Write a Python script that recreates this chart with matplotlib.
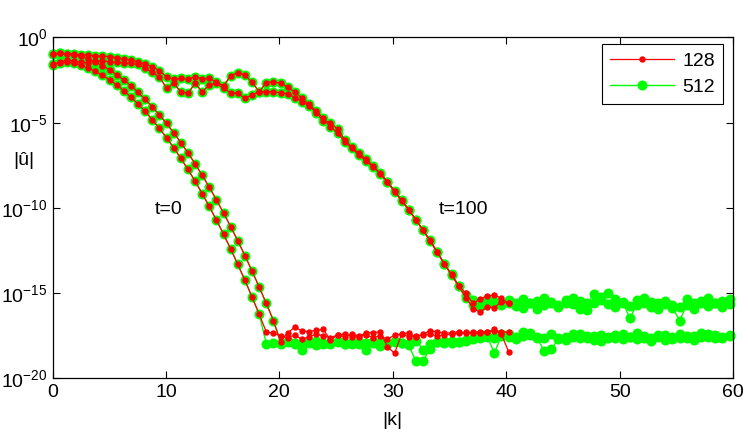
import numpy as np
import matplotlib
matplotlib.use("Agg")
import matplotlib.pyplot as plt
from matplotlib.ticker import NullLocator
from matplotlib.lines import Line2D

plt.rcParams['font.family'] = ['Liberation Sans', 'DejaVu Sans']

# wavenumber spacing (2*pi/L with L = 10)
K_STEP = 0.6283

# ---- data: log10 |u_hat| ----
# t = 0, first component (shared descent n = 0..31)
T0A_DESC = [-0.95, -0.93, -0.95, -1.00, -1.11, -1.26, -1.44, -1.65, -1.90, -2.18,
            -2.49, -2.83, -3.21, -3.62, -4.06, -4.54, -5.04, -5.58, -6.16, -6.76,
            -7.40, -8.08, -8.78, -9.52, -10.29, -11.09, -11.93, -12.79, -13.70, -14.63,
            -15.60, -16.60]
T0A_RED_FLOOR = [-17.84, -17.31, -17.00, -17.20, -17.26, -17.16, -17.12, -17.74, -17.45, -17.39,
                 -17.55, -17.55, -17.31, -17.31, -17.26, -18.14, -18.52, -17.39, -17.31, -17.58,
                 -17.39, -17.20, -17.26, -17.35, -17.31, -17.26, -17.35, -17.35, -17.35, -17.30,
                 -17.12, -17.40, -18.43]
T0A_GREEN_FLOOR = [-17.90, -17.85, -17.95, -18.30, -17.90, -17.80, -17.95, -17.90, -17.85, -18.00,
                   -17.95, -17.85, -18.30, -17.90, -17.85, -17.95, -17.80, -17.90, -18.05, -19.00,
                   -18.95, -18.25, -17.85, -17.90, -17.80, -17.85, -17.75, -17.70, -17.60, -17.55,
                   -18.50, -17.50, -17.40, -17.55, -17.30, -17.45, -17.60, -18.40, -18.25, -17.70,
                   -17.55, -17.40, -17.60, -17.50, -17.75, -17.45, -17.55, -17.65, -17.40, -17.55,
                   -17.70, -17.50, -17.60, -17.45, -17.75, -17.55, -17.40, -17.60, -17.50, -17.35,
                   -17.55, -17.45, -17.60, -17.50]

# t = 0, second component (shared descent n = 0..29)
T0B_DESC = [-1.55, -1.50, -1.45, -1.50, -1.63, -1.79, -1.99, -2.22, -2.48, -2.78,
            -3.12, -3.49, -3.90, -4.34, -4.82, -5.33, -5.88, -6.46, -7.08, -7.73,
            -8.42, -9.15, -9.91, -10.71, -11.54, -12.40, -13.31, -14.24, -15.22, -16.23]
T0B_RED_FLOOR = [-17.27, -17.35, -17.50, -17.60, -17.45, -17.70, -17.55, -17.40, -17.50, -17.60,
                 -17.45, -17.55, -17.40, -17.50, -17.45, -17.60, -17.50, -17.70, -17.45, -17.40,
                 -17.55, -17.50, -17.45, -17.40, -17.50, -17.45, -17.40, -17.35, -17.30, -17.30,
                 -17.25, -17.25, -17.20, -17.25, -17.30]
T0B_GREEN_FLOOR = [-17.95, -17.90, -18.00, -17.80, -17.90, -17.95, -17.85, -18.05, -17.90, -17.95,
                   -17.80, -17.95, -17.85, -18.00, -17.90, -17.85, -18.10, -17.95, -17.85, -17.90,
                   -17.95, -17.80, -18.30, -17.95, -17.85, -17.80, -17.90, -17.85, -17.80, -17.65,
                   -17.55, -17.50, -17.60, -17.40, -17.55, -17.70, -17.50, -17.35, -17.55, -17.65,
                   -17.40, -17.60, -17.75, -17.55, -17.40, -17.65, -17.50, -17.80, -17.60, -17.45,
                   -17.70, -17.55, -17.35, -17.60, -17.80, -17.55, -17.45, -17.70, -17.60, -17.50,
                   -17.75, -17.55, -17.40, -17.65, -17.55, -17.45]

# t = 100, first component (shared descent n = 0..57)
T100C_DESC = [-0.95, -0.93, -0.95, -0.98, -1.02, -1.05, -1.08, -1.10, -1.12, -1.18,
              -1.26, -1.33, -1.42, -1.55, -1.71, -1.95, -2.30, -2.45, -2.40, -2.45,
              -2.30, -2.42, -2.40, -2.60, -2.84, -2.25, -2.06, -2.20, -2.62, -3.18,
              -2.65, -2.59, -2.69, -2.92, -3.20, -3.57, -3.92, -4.32, -4.74, -5.23,
              -5.62, -6.10, -6.50, -6.90, -7.25, -7.60, -7.95, -8.45, -9.00, -9.55,
              -10.10, -10.70, -11.30, -11.90, -12.60, -13.30, -13.90, -14.55]
T100C_RED_TAIL = [-15.00, -15.60, -15.35, -15.16, -15.10, -15.30, -15.60]
T100C_GREEN_TAIL = [-15.10, -15.40, -15.50, -15.35, -15.45, -15.60, -15.40, -15.55, -15.35, -15.60,
                    -15.45, -15.30, -15.50, -15.70, -15.40, -15.25, -15.45, -15.60, -15.05, -15.20,
                    -15.00, -15.35, -15.55, -15.75, -15.40, -15.30, -15.50, -15.60, -15.45, -15.70,
                    -15.80, -15.35, -15.60, -15.45, -15.30, -15.55, -15.45, -15.35]

# t = 100, second component (shared descent n = 0..57)
T100D_DESC = [-1.60, -1.45, -1.32, -1.38, -1.45, -1.47, -1.40, -1.36, -1.42, -1.46,
              -1.48, -1.52, -1.58, -1.80, -2.05, -2.30, -2.98, -2.69, -3.18, -3.28,
              -2.69, -3.18, -2.79, -2.69, -2.98, -3.24, -3.27, -3.57, -3.37, -3.18,
              -3.18, -3.18, -3.24, -3.31, -3.52, -3.76, -4.00, -4.40, -4.88, -5.00,
              -5.38, -6.00, -6.44, -6.79, -7.14, -7.55, -8.00, -8.50, -9.04, -9.57,
              -10.10, -10.70, -11.30, -11.95, -12.60, -13.28, -13.92, -14.60]
T100D_RED_TAIL = [-15.25, -15.90, -16.10, -15.80, -15.85, -15.50, -15.60]
T100D_GREEN_TAIL = [-15.30, -15.70, -15.80, -15.60, -15.55, -15.70, -15.60, -15.75, -15.85, -15.55,
                    -15.95, -15.70, -15.60, -15.80, -15.55, -15.65, -15.90, -16.00, -15.60, -15.40,
                    -15.65, -15.80, -15.50, -16.45, -15.70, -15.55, -15.80, -15.90, -15.65, -15.85,
                    -16.60, -15.70, -15.90, -15.60, -15.75, -15.55, -15.80, -15.65]

SERIES_LABELS = ['128', '512']
X_TICKS = [0, 10, 20, 30, 40, 50, 60]
Y_TICKS = [1e0, 1e-5, 1e-10, 1e-15, 1e-20]

RED = '#ff0000'
GREEN = '#00ff00'
FS = 14

green_curves = [T0A_DESC + T0A_GREEN_FLOOR, T0B_DESC + T0B_GREEN_FLOOR,
                T100C_DESC + T100C_GREEN_TAIL, T100D_DESC + T100D_GREEN_TAIL]
red_curves = [T0A_DESC + T0A_RED_FLOOR, T0B_DESC + T0B_RED_FLOOR,
              T100C_DESC + T100C_RED_TAIL, T100D_DESC + T100D_RED_TAIL]

fig = plt.figure(figsize=(7.48, 4.34), dpi=100)
ax = fig.add_axes([0.0702, 0.1279, 0.9098, 0.7857])

for vals in green_curves:
    k = K_STEP * np.arange(len(vals))
    ax.plot(k, 10.0 ** np.array(vals), color=GREEN, lw=1.0, marker='o', ms=6.2,
            mec=GREEN, mfc=GREEN, clip_on=False, zorder=2)
for vals in red_curves:
    k = K_STEP * np.arange(len(vals))
    ax.plot(k, 10.0 ** np.array(vals), color=RED, lw=0.9, marker='o', ms=3.6,
            mec=RED, mfc=RED, clip_on=False, zorder=3)

ax.set_yscale('log')
ax.set_xlim(0, 60)
ax.set_ylim(1e-20, 1e0)
ax.set_xticks(X_TICKS)
ax.set_yticks(Y_TICKS)
ax.yaxis.set_minor_locator(NullLocator())
ax.tick_params(direction='in', top=True, right=True, length=5, width=0.8,
               labelsize=FS, colors='black')
ax.tick_params(axis='y', pad=3.5)
ax.tick_params(axis='x', pad=4)
for s in ax.spines.values():
    s.set_linewidth(0.9)
    s.set_color('black')

ax.set_xlabel('|k|', fontsize=FS, labelpad=8)
ax.set_ylabel('|û|', fontsize=FS, rotation=0, va='center', ha='center')
ax.yaxis.set_label_coords(-0.042, 0.64)

ax.text(10.2, 10 ** -10.1, 't=0', fontsize=FS, ha='center', va='center')
ax.text(36.2, 10 ** -10.1, 't=100', fontsize=FS, ha='center', va='center')

handles = [Line2D([], [], color=RED, lw=0.9, marker='o', ms=3.6, mec=RED),
           Line2D([], [], color=GREEN, lw=1.0, marker='o', ms=6.2, mec=GREEN)]
leg = ax.legend(handles, SERIES_LABELS, loc='upper right', bbox_to_anchor=(0.985, 0.981),
                borderaxespad=0, fancybox=False, edgecolor='black', framealpha=1,
                fontsize=FS, handlelength=3.3, numpoints=1, borderpad=0.42,
                labelspacing=0.45, handletextpad=0.4)
leg.get_frame().set_linewidth(0.8)

fig.savefig('out.png', dpi=100)
